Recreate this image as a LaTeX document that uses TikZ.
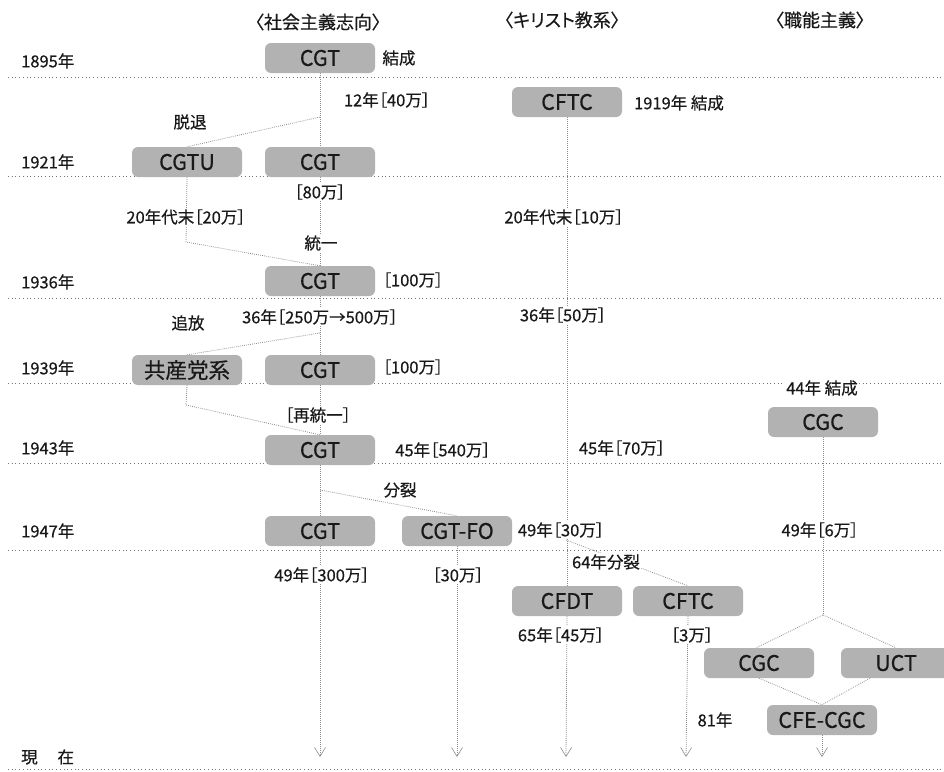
\documentclass[tikz,border=0pt]{standalone}
\usepackage{fontspec}
\setmainfont{Noto Sans CJK JP}[RawFeature={+palt}, FakeBold=0.5]
\usetikzlibrary{arrows.meta,calc}
\pgfdeclarelayer{bg}
\pgfsetlayers{bg,main}
\begin{document}
\begin{tikzpicture}[x=1pt,y=-1pt,
  box/.style={fill=black!30, rounded corners=6pt, minimum width=110pt, minimum height=30pt, inner sep=0pt, text=black!90, font=\fontsize{21.5}{21.5}\selectfont},
  lbl/.style={fill=white, inner sep=1pt, text=black!90, font=\fontsize{16.5}{16.5}\selectfont},
  plain/.style={inner sep=1pt, text=black!90, font=\fontsize{16.5}{16.5}\selectfont},
  ttl/.style={inner sep=1pt, text=black!90, font=\fontsize{18}{18}\selectfont},
  conn/.style={draw=black!45, line width=0.8pt, dash pattern=on 0.8pt off 1.2pt},
  arr/.style={conn, -{Straight Barb[length=9pt,width=11pt,line width=0.6pt]}},
  hline/.style={draw=black!55, line width=0.7pt, dash pattern=on 0.7pt off 3pt}]
\useasboundingbox (0,0) rectangle (944,771);

% titles
\node[ttl] (t1) at (318,22) {〈社会主義志向〉};
\node[ttl] (t2) at (562,20) {〈キリスト教系〉};
\node[ttl] (t3) at (820,20) {〈職能主義〉};

% row labels
\node[plain, anchor=west] (y1895) at (20,61) {1895年};
\node[plain, anchor=west] (y1921) at (20,162) {1921年};
\node[plain, anchor=west] (y1936) at (20,282) {1936年};
\node[plain, anchor=west] (y1939) at (20,368) {1939年};
\node[plain, anchor=west] (y1943) at (20,448) {1943年};
\node[plain, anchor=west] (y1947) at (20,531) {1947年};
\node[plain, anchor=west] (ynow) at (20,757) {現\hspace{1.2em}在};

% boxes
\node[box] (cgt95) at (320,58) {CGT};
\node[box] (cftc19) at (567,102) {CFTC};
\node[box] (cgtu) at (187,162) {CGTU};
\node[box] (cgt21) at (320,162) {CGT};
\node[box] (cgt36) at (320,281) {CGT};
\node[box] (kyo) at (187,370) {共産党系};
\node[box] (cgt39) at (320,370) {CGT};
\node[box] (cgc44) at (823,422) {CGC};
\node[box] (cgt43) at (320,450) {CGT};
\node[box] (cgt47) at (320,531) {CGT};
\node[box] (fo) at (457,531) {CGT-FO};
\node[box] (cfdt) at (567,601) {CFDT};
\node[box] (cftc64) at (688,601) {CFTC};
\node[box] (cgc2) at (759,663) {CGC};
\node[box] (uct) at (896,663) {UCT};
\node[box] (cfe) at (822,720) {CFE-CGC};

% labels
\node[plain] (l1) at (399,58) {結成};
\node[plain] (l2) at (679,103) {1919年 結成};
\node[lbl] (l3) at (387,100) {12年［40万］};
\node[plain] (l4) at (190,122) {脱退};
\node[lbl] (l5) at (320,192) {［80万］};
\node[lbl] (l6) at (186,217) {20年代末［20万］};
\node[lbl] (l7) at (564,217) {20年代末［10万］};
\node[lbl] (l8) at (321,243) {統一};
\node[plain] (l9) at (413,280) {［100万］};
\node[plain] (l10) at (188,323) {追放};
\node[lbl] (l11) at (320,317) {36年［250万→500万］};
\node[lbl] (l12) at (563,315) {36年［50万］};
\node[plain] (l13) at (413,367) {［100万］};
\node[lbl] (l14) at (822,388) {44年 結成};
\node[lbl] (l15) at (318,415) {［再統一］};
\node[plain] (l16) at (443,450) {45年［540万］};
\node[plain] (l17) at (622,448) {45年［70万］};
\node[plain] (l18) at (400,490) {分裂};
\node[lbl] (l19) at (561,530) {49年［30万］};
\node[lbl] (l20) at (820,530) {49年［6万］};
\node[lbl] (l21) at (606,562) {64年分裂};
\node[lbl] (l22) at (322,575) {49年［300万］};
\node[lbl] (l23) at (458,575) {［30万］};
\node[lbl] (l24) at (561,635) {65年［45万］};
\node[lbl] (l25) at (692,635) {［3万］};
\node[plain] (l26) at (715,720) {81年};

% coordinates
\coordinate (s1) at (320,117);
\coordinate (b1) at (186,242);
\coordinate (s2) at (320,333);
\coordinate (b2) at (186,405);
\coordinate (s3) at (320,490);
\coordinate (s4) at (566,540);
\coordinate (d1) at (823,615);
\coordinate (e1) at (320,757);
\coordinate (e2) at (457,757);
\coordinate (e3) at (566,757);
\coordinate (e4) at (686,757);
\coordinate (e5) at (822,757);

\begin{pgfonlayer}{bg}
% horizontal dotted lines
\foreach \yy in {77,176,298,383,463,550,769}
  \draw[hline] (8,\yy) -- (944,\yy);
% connectors
\draw[conn] (cgt95.south) -- (cgt21.north);
\draw[conn] (s1) -- (cgtu.north);
\draw[conn] (cgt21.south) -- (cgt36.north);
\draw[conn] (cgtu.south) -- (b1) -- (cgt36.north);
\draw[conn] (cgt36.south) -- (cgt39.north);
\draw[conn] (s2) -- (kyo.north);
\draw[conn] (kyo.south) -- (b2) -- (cgt43.north);
\draw[conn] (cgt39.south) -- (cgt43.north);
\draw[conn] (cgt43.south) -- (cgt47.north);
\draw[conn] (s3) -- (fo.north);
\draw[arr] (cgt47.south) -- (e1);
\draw[arr] (fo.south) -- (e2);
\draw[conn] (cftc19.south) -- (cfdt.north);
\draw[conn] (s4) -- (cftc64.north);
\draw[arr] (cfdt.south) -- (e3);
\draw[arr] (cftc64.south) -- (e4);
\draw[conn] (cgc44.south) -- (d1);
\draw[conn] (d1) -- (cgc2.100);
\draw[conn] (d1) -- (uct.north);
\draw[conn] (cgc2.south) -- (cfe.north);
\draw[conn] (uct.210) -- (cfe.north);
\draw[arr] (cfe.south) -- (e5);
\end{pgfonlayer}
\end{tikzpicture}
\end{document}
